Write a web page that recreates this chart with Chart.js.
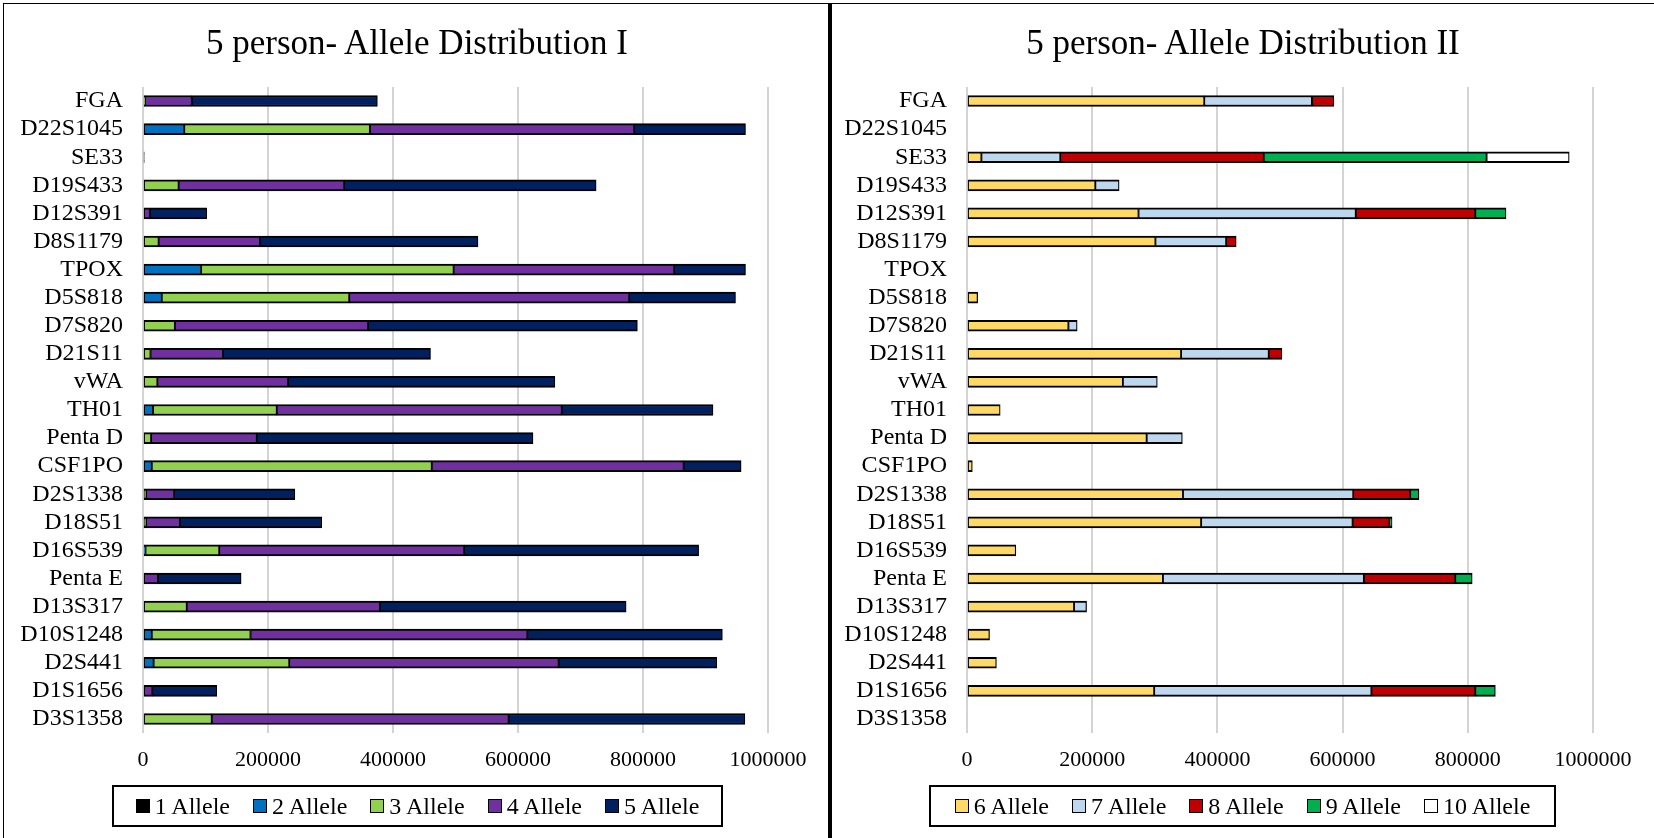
<!DOCTYPE html>
<html>
<head>
<meta charset="utf-8">
<title>5 person- Allele Distribution</title>
<script src="https://cdn.jsdelivr.net/npm/chart.js@4.4.1/dist/chart.umd.min.js"></script>
<style>
  html, body { margin: 0; padding: 0; background: #fff; }
  body {
    width: 1654px; height: 838px; position: relative; overflow: hidden;
    font-family: 'Liberation Serif', 'Times New Roman', serif; color: #000;
  }
  .frame {
    position: absolute; left: 3px; top: 3px; width: 1660px; height: 840px;
    border-top: 1.5px solid #000; border-left: 1.5px solid #000;
  }
  .divider { position: absolute; left: 828px; top: 3px; width: 4px; height: 840px; background: #000; }
  .panel { position: absolute; top: 0; height: 838px; }
  .panel canvas { position: absolute; left: 0; top: 0; }
  .title {
    position: absolute; left: 4px; right: 0; top: 25px; text-align: center;
    font-size: 35px; line-height: 35px; white-space: nowrap;
  }
  .legend {
    position: absolute; top: 785px; height: 42px; box-sizing: border-box;
    border: 2px solid #000; display: flex; align-items: center; justify-content: center;
    gap: 23px; font-size: 24px; line-height: 24px; white-space: nowrap;
  }
  .legend .item { display: flex; align-items: center; }
  .legend .swatch {
    width: 14px; height: 14px; box-sizing: border-box; border: 1.5px solid #000; margin-right: 5px;
  }
</style>
</head>
<body>
<div class="frame"></div>
<div class="divider"></div>

<div class="panel" id="panel1" style="left:0; width:830px;">
  <canvas id="chart1" width="830" height="838"></canvas>
  <div class="title">5 person- Allele Distribution I</div>
  <div class="legend" id="legend1" style="left:112px; width:611px;"></div>
</div>

<div class="panel" id="panel2" style="left:832px; width:822px;">
  <canvas id="chart2" width="822" height="838"></canvas>
  <div class="title" style="left:0;">5 person- Allele Distribution II</div>
  <div class="legend" id="legend2" style="left:97px; width:627px;"></div>
</div>

<script>
'use strict';

// STR loci, listed top to bottom as they appear in both charts
const loci = [
  'FGA', 'D22S1045', 'SE33', 'D19S433', 'D12S391', 'D8S1179', 'TPOX', 'D5S818',
  'D7S820', 'D21S11', 'vWA', 'TH01', 'Penta D', 'CSF1PO', 'D2S1338', 'D18S51',
  'D16S539', 'Penta E', 'D13S317', 'D10S1248', 'D2S441', 'D1S1656', 'D3S1358'
];

const xTicks = [0, 200000, 400000, 600000, 800000, 1000000];

// Chart I: 1 to 5 alleles
const allele1 = [null, null, 2000, null, null, null, null, null, null, null, null, null,
  null, null, null, null, null, null, null, null, null, null, null];
const allele2 = [null, 66000, null, null, null, null, 93000, 30000, null, null, null, 16000,
  null, 14000, null, null, 4000, null, null, 14000, 17000, null, null];
const allele3 = [3000, 297000, null, 57000, null, 25000, 404000, 300000, 51000, 12000, 23000, 198000,
  13000, 448000, 5000, 5000, 118000, null, 70000, 158000, 217000, null, 110000];
const allele4 = [75000, 423000, null, 265000, 11000, 162000, 353000, 448000, 309000, 116000, 209000, 456000,
  169000, 403000, 45000, 54000, 392000, 24000, 309000, 443000, 431000, 15000, 475000];
const allele5 = [297000, 178000, null, 403000, 91000, 349000, 114000, 170000, 431000, 332000, 427000, 242000,
  442000, 92000, 193000, 227000, 375000, 133000, 394000, 312000, 253000, 103000, 378000];

// Chart II: 6 to 10 alleles
const allele6 = [379000, null, 23000, 205000, 274000, 301000, null, 17000, 162000, 342000, 249000, 53000,
  287000, 8500, 345000, 374000, 78000, 313000, 171000, 36000, 47000, 299000, null];
const allele7 = [172000, null, 126000, 38000, 347000, 113000, null, null, 14000, 140000, 55000, null,
  57000, null, 272000, 242000, null, 321000, 20000, null, null, 347000, null];
const allele8 = [35000, null, 325000, null, 191000, 16000, null, null, null, 21000, null, null,
  null, null, 91000, 59000, null, 146000, null, null, null, 166000, null];
const allele9 = [null, null, 356000, null, 49000, null, null, null, null, null, null, null,
  null, null, 14000, 4000, null, 27000, null, null, null, 32000, null];
const allele10 = [null, null, 132000, null, null, null, null, null, null, null, null, null,
  null, null, null, null, null, null, null, null, null, null, null];

const seriesI = [
  { label: '1 Allele', data: allele1, color: '#000000' },
  { label: '2 Allele', data: allele2, color: '#0070c0' },
  { label: '3 Allele', data: allele3, color: '#92d050' },
  { label: '4 Allele', data: allele4, color: '#7030a0' },
  { label: '5 Allele', data: allele5, color: '#002060' },
];

const seriesII = [
  { label: '6 Allele', data: allele6, color: '#ffd966' },
  { label: '7 Allele', data: allele7, color: '#bdd7ee' },
  { label: '8 Allele', data: allele8, color: '#c00000' },
  { label: '9 Allele', data: allele9, color: '#00b050' },
  { label: '10 Allele', data: allele10, color: '#ffffff' },
];

const FONT = "'Liberation Serif', 'Times New Roman', serif";

/**
 * Build a stacked horizontal bar chart
 * @param {string} canvasId - canvas element id
 * @param {Array} series - list of {label, data, color}
 * @param {number} plotLeft - x of the value 0 inside the canvas
 * @param {number} plotRight - x of the value 1000000 inside the canvas
 */
function makeChart(canvasId, series, plotLeft, plotRight) {
  const canvas = document.getElementById(canvasId);
  const datasets = series.map((s) => ({
    label: s.label,
    data: s.data,
    backgroundColor: s.color,
    borderColor: '#000',
    borderWidth: { top: 2, bottom: 2, left: 1.25, right: 1.25 },
    borderSkipped: false,
    barThickness: 11,
  }));

  return new Chart(canvas, {
    type: 'bar',
    data: { labels: loci, datasets },
    options: {
      indexAxis: 'y',
      responsive: false,
      animation: false,
      layout: {
        padding: { top: 87, right: canvas.width - plotRight, bottom: 65, left: 0 },
      },
      plugins: {
        legend: { display: false },
        tooltip: { enabled: false },
        title: { display: false },
      },
      scales: {
        x: {
          stacked: true,
          min: xTicks[0],
          max: xTicks[xTicks.length - 1],
          afterBuildTicks: (scale) => {
            scale.ticks = xTicks.map((v) => ({ value: v }));
          },
          ticks: {
            callback: (v) => String(v),
            font: { family: FONT, size: 22 },
            color: '#000',
            padding: 14,
            maxRotation: 0,
          },
          grid: { color: '#d4d4d4', lineWidth: 2, drawTicks: false },
          border: { display: false },
          afterFit: (scale) => { scale.height = 40; },
        },
        y: {
          stacked: true,
          grid: { display: false, drawTicks: false },
          border: { display: false },
          ticks: {
            font: { family: FONT, size: 24 },
            color: '#000',
            padding: 20,
            autoSkip: false,
          },
          afterFit: (scale) => { scale.width = plotLeft; },
        },
      },
    },
  });
}

/**
 * Fill an HTML legend box from a series list
 */
function makeLegend(elId, series) {
  const box = document.getElementById(elId);
  series.forEach((s) => {
    const item = document.createElement('div');
    item.className = 'item';
    const sw = document.createElement('span');
    sw.className = 'swatch';
    sw.style.background = s.color;
    const txt = document.createElement('span');
    txt.textContent = s.label;
    item.appendChild(sw);
    item.appendChild(txt);
    box.appendChild(item);
  });
}

makeChart('chart1', seriesI, 143, 768);
makeChart('chart2', seriesII, 135, 761);
makeLegend('legend1', seriesI);
makeLegend('legend2', seriesII);
</script>
</body>
</html>
